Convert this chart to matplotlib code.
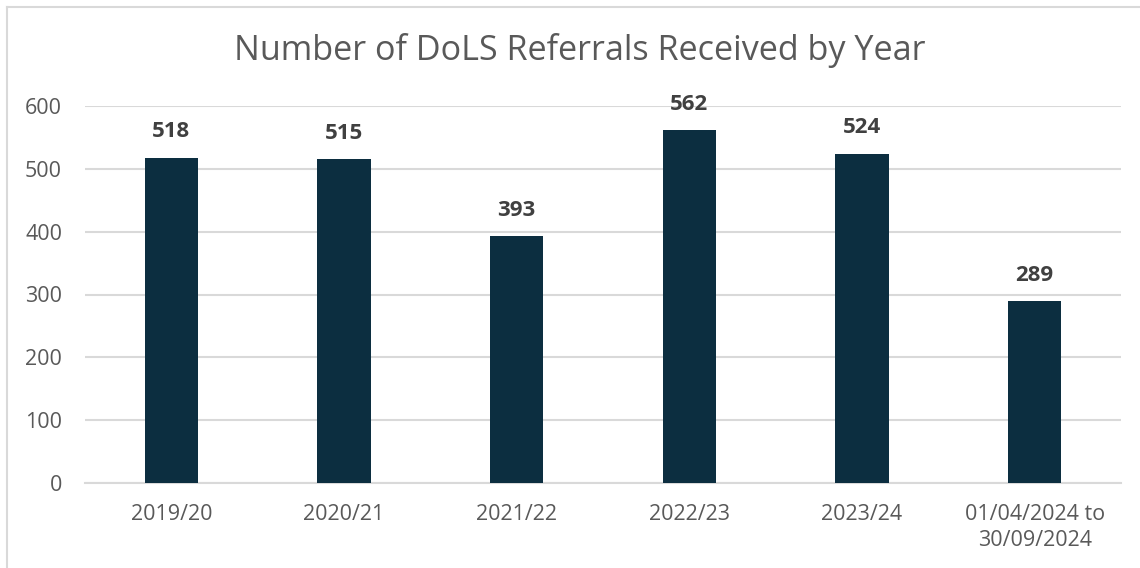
import matplotlib
matplotlib.use("Agg")
import matplotlib.pyplot as plt
from matplotlib.lines import Line2D

categories = ["2019/20", "2020/21", "2021/22", "2022/23", "2023/24", "01/04/2024 to\n30/09/2024"]
values = [518, 515, 393, 562, 524, 289]
yticks = [0, 100, 200, 300, 400, 500, 600]

plt.rcParams['font.family'] = ['Open Sans', 'DejaVu Sans']

W, H = 1140, 568
fig = plt.figure(figsize=(W/100, H/100), dpi=100)
ax = fig.add_axes([85/W, 1-483/H, (1121-85)/W, (483-106)/H])

bar_color = "#0C2E40"
text_color = "#595959"
grid_color = "#D9D9D9"

x = list(range(len(categories)))
bars = ax.bar(x, values, width=0.31, color=bar_color, zorder=3)
for xi, v in zip(x, values):
    ax.text(xi, v + 41, str(v), ha="center", va="center", fontsize=16,
            fontweight="bold", color="#404040")

ax.set_xlim(-0.5, len(categories) - 0.5)
ax.set_ylim(0, 600)
ax.set_yticks(yticks)
ax.set_yticklabels([str(t) for t in yticks], fontsize=15.5, color=text_color)
ax.set_xticks(x)
ax.set_xticklabels(categories, fontsize=15.5, color=text_color, linespacing=1.35)
ax.tick_params(axis="both", length=0)
ax.tick_params(axis="x", pad=15)
ax.tick_params(axis="y", pad=16.5)
ax.grid(axis="y", color=grid_color, linewidth=1.5, zorder=0)
for s in ["top", "right", "left"]:
    ax.spines[s].set_visible(False)
ax.spines["bottom"].set_color(grid_color)
ax.spines["bottom"].set_linewidth(1.5)

fig.text(0.5 + 10/W, 1-50/H, "Number of DoLS Referrals Received by Year", ha="center", va="center",
         fontsize=24.6, color=text_color)

# outer chart border (top and left visible)
fig.add_artist(Line2D([7/W, 1], [1-7/H, 1-7/H], transform=fig.transFigure, color=grid_color, linewidth=1.5))
fig.add_artist(Line2D([7/W, 7/W], [0, 1-7/H], transform=fig.transFigure, color=grid_color, linewidth=1.5))

fig.savefig("out.png", dpi=100)
